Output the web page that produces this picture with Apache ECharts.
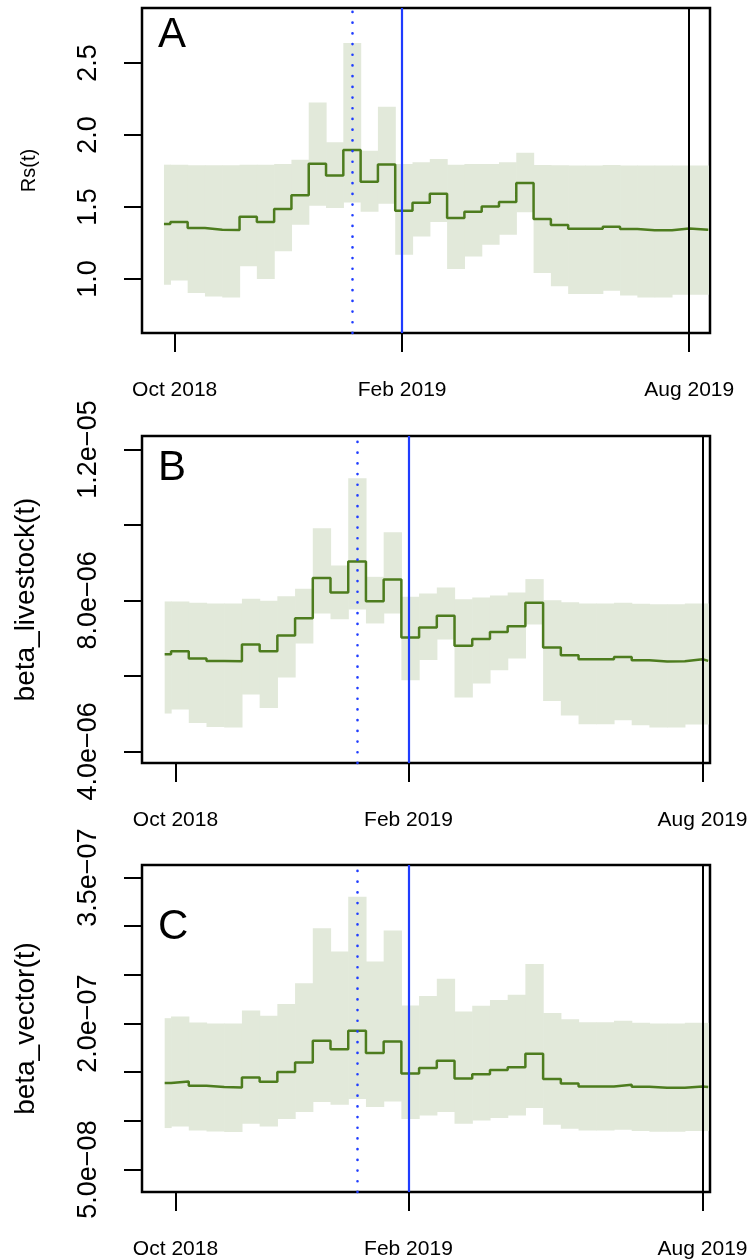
<!DOCTYPE html>
<html>
<head>
<meta charset="utf-8">
<script src="https://cdn.jsdelivr.net/npm/echarts@6/dist/echarts.min.js"></script>
<style>
  html, body { margin: 0; padding: 0; background: #fff; }
  #chart { width: 750px; height: 1260px; }
</style>
</head>
<body>
<div id="chart"></div>
<script>
// step edges on the time index (one unit = one estimation window)
const edgesA = [-0.37, 0, 1, 2, 3, 4, 5, 6, 7, 8, 9, 10, 11, 12, 13, 14, 15, 16, 17, 18, 19, 20, 21, 22, 23, 24, 25, 26, 27, 28, 29, 30, 31.1];
const edgesBC = [-0.36, 0, 1, 2, 3, 4, 5, 6, 7, 8, 9, 10, 11, 12, 13, 14, 15, 16, 17, 18, 19, 20, 21, 22, 23, 24, 25, 26, 27, 28, 29, 30, 30.32];

const xTickVals = [0.25, 13.4, 30.0];
const xTickLabels = ['Oct 2018', 'Feb 2019', 'Aug 2019'];
const dottedAt = 10.53;
const solidAt = 13.4;
const blackAt = 30.0;

// A: Rs(t)
const rsMid = [1.382, 1.396, 1.354, 1.342, 1.340, 1.433, 1.396, 1.486, 1.581, 1.801, 1.719, 1.896, 1.676, 1.796, 1.474, 1.530,
  1.592, 1.424, 1.467, 1.504, 1.535, 1.667, 1.417, 1.375, 1.349, 1.349, 1.363, 1.347, 1.338, 1.338, 1.351, 1.342];
const rsUpper = [1.794, 1.794, 1.790, 1.790, 1.790, 1.794, 1.794, 1.799, 1.828, 2.226, 1.949, 2.639, 1.891, 2.197, 1.799, 1.810,
  1.833, 1.794, 1.799, 1.799, 1.810, 1.877, 1.792, 1.790, 1.789, 1.789, 1.791, 1.789, 1.788, 1.788, 1.789, 1.789];
const rsLower = [0.960, 0.990, 0.903, 0.879, 0.872, 1.088, 1.000, 1.192, 1.377, 1.509, 1.493, 1.532, 1.467, 1.523, 1.169, 1.296,
  1.396, 1.069, 1.157, 1.238, 1.308, 1.463, 1.042, 0.949, 0.896, 0.896, 0.919, 0.886, 0.872, 0.872, 0.891, 0.891];

// B: beta_livestock(t), in units of 1e-6
const livMid = [6.576, 6.655, 6.461, 6.398, 6.390, 6.833, 6.655, 7.072, 7.531, 8.592, 8.212, 9.034, 7.981, 8.557, 7.019, 7.284,
  7.592, 6.796, 6.981, 7.167, 7.318, 7.937, 6.753, 6.549, 6.443, 6.443, 6.504, 6.416, 6.382, 6.390, 6.443, 6.398];
const livUpper = [7.973, 7.973, 7.937, 7.920, 7.920, 8.042, 7.990, 8.114, 8.308, 9.910, 8.928, 11.236, 8.626, 9.804, 8.096, 8.186,
  8.345, 8.034, 8.080, 8.133, 8.212, 8.565, 8.008, 7.955, 7.920, 7.920, 7.937, 7.911, 7.902, 7.902, 7.920, 7.920];
const livLower = [5.003, 5.109, 4.754, 4.647, 4.631, 5.507, 5.151, 5.958, 6.859, 7.655, 7.504, 7.761, 7.390, 7.655, 5.886, 6.420,
  6.965, 5.427, 5.798, 6.151, 6.461, 7.363, 5.337, 4.950, 4.719, 4.719, 4.825, 4.692, 4.631, 4.631, 4.711, 4.711];

// C: beta_vector(t), in units of 1e-8
const vecMid = [13.88, 14.05, 13.60, 13.47, 13.43, 14.46, 14.01, 15.01, 16.00, 18.22, 17.37, 19.25, 16.96, 18.15, 14.87, 15.42,
  16.17, 14.35, 14.80, 15.22, 15.52, 16.89, 14.29, 13.84, 13.53, 13.53, 13.71, 13.50, 13.40, 13.40, 13.53, 13.47];
const vecUpper = [20.55, 20.72, 20.10, 20.00, 20.00, 21.34, 20.79, 22.02, 24.15, 29.79, 27.39, 33.04, 26.37, 29.55, 21.85, 22.84,
  24.59, 21.23, 21.82, 22.43, 22.95, 26.13, 21.07, 20.45, 20.14, 20.14, 20.28, 20.07, 20.00, 20.00, 20.07, 20.07];
const vecLower = [9.26, 9.43, 9.01, 8.91, 8.85, 9.70, 9.43, 10.18, 10.90, 11.93, 11.65, 12.24, 11.42, 12.00, 10.18, 10.55,
  10.90, 9.70, 10.04, 10.29, 10.55, 11.31, 9.60, 9.19, 9.01, 9.01, 9.09, 8.95, 8.88, 8.88, 8.95, 8.95];

const rsTicks = [1.0, 1.5, 2.0, 2.5];
const livTicks = [4e-6, 6e-6, 8e-6, 1e-5, 1.2e-5];
const livLabels = [4e-6, 8e-6, 1.2e-5];
const vecTicks = [5e-8, 1e-7, 1.5e-7, 2e-7, 2.5e-7, 3e-7, 3.5e-7];
const vecLabels = [5e-8, 2e-7, 3.5e-7];

const GREEN = '#4d7c1e';
const BAND = '#e2e9da';
const FONT = 'Liberation Sans, Arial, sans-serif';

function stepData(edges, vals, scale) {
  const out = vals.map((v, i) => [edges[i], v * scale]);
  out.push([edges[edges.length - 1], vals[vals.length - 1] * scale]);
  return out;
}

// one row per window: [start, end, lower, upper]
function bandData(edges, lo, up, scale) {
  return lo.map((l, i) => [edges[i], edges[i + 1], l * scale, up[i] * scale]);
}

function sci(v) {
  const [m, e] = v.toExponential(1).split('e');
  const n = Number(e);
  return m + 'e' + (n < 0 ? '\u2212' : '+') + String(Math.abs(n)).padStart(2, '0');
}

function renderBand(params, api) {
  const a = api.coord([api.value(0), api.value(3)]);
  const b = api.coord([api.value(1), api.value(2)]);
  return {
    type: 'rect',
    shape: { x: a[0], y: a[1], width: b[0] - a[0] + 0.6, height: b[1] - a[1] },
    style: { fill: BAND }
  };
}

const panels = [
  { top: 8, height: 325, xMax: 31.2, edges: edgesA, mid: rsMid, up: rsUpper, lo: rsLower, scale: 1,
    yMin: 0.625, yMax: 2.882, ticks: rsTicks, labels: rsTicks, fmt: v => v.toFixed(1),
    name: 'Rs(t)', nameSize: 20, nameGap: 103, letter: 'A', letterY: 35 },
  { top: 436, height: 327, xMax: 30.42, edges: edgesBC, mid: livMid, up: livUpper, lo: livLower, scale: 1e-6,
    yMin: 3.692e-6, yMax: 12.358e-6, ticks: livTicks, labels: livLabels, fmt: sci,
    name: 'beta_livestock(t)', nameSize: 28, nameGap: 102, letter: 'B', letterY: 468 },
  { top: 865, height: 327, xMax: 30.42, edges: edgesBC, mid: vecMid, up: vecUpper, lo: vecLower, scale: 1e-8,
    yMin: 2.69e-8, yMax: 36.29e-8, ticks: vecTicks, labels: vecLabels, fmt: sci,
    name: 'beta_vector(t)', nameSize: 28, nameGap: 102, letter: 'C', letterY: 927 }
];

const grid = [], xAxis = [], yAxis = [], series = [], graphic = [];

panels.forEach((p, i) => {
  grid.push({
    left: 142, right: 40, top: p.top, height: p.height,
    containLabel: false, outerBoundsMode: 'none',
    show: true, borderColor: '#000', borderWidth: 2.5, backgroundColor: 'transparent'
  });
  xAxis.push({
    gridIndex: i, type: 'value', min: -1.64, max: p.xMax,
    axisLine: { show: false, onZero: false }, splitLine: { show: false },
    axisTick: { show: true, length: 19, lineStyle: { color: '#000', width: 2 }, customValues: xTickVals },
    axisLabel: {
      customValues: xTickVals, margin: 47, fontSize: 21, color: '#000', fontFamily: FONT,
      formatter: v => xTickLabels[xTickVals.findIndex(t => Math.abs(t - v) < 1e-6)] || ''
    }
  });
  yAxis.push({
    gridIndex: i, type: 'value', min: p.yMin, max: p.yMax,
    axisLine: { show: false, onZero: false }, splitLine: { show: false },
    axisTick: { show: true, length: 18, lineStyle: { color: '#000', width: 2 }, customValues: p.ticks },
    axisLabel: {
      customValues: p.labels, rotate: 90, margin: 40, fontSize: 27, color: '#000', fontFamily: FONT,
      formatter: v => p.fmt(v)
    },
    name: p.name, nameLocation: 'middle', nameRotate: 90, nameGap: p.nameGap,
    nameTextStyle: { fontSize: p.nameSize, color: '#000', fontFamily: FONT }
  });

  series.push({
    type: 'custom', xAxisIndex: i, yAxisIndex: i, silent: true, z: 1,
    renderItem: renderBand,
    encode: { x: [0, 1], y: [2, 3] },
    data: bandData(p.edges, p.lo, p.up, p.scale)
  });
  series.push({
    type: 'line', xAxisIndex: i, yAxisIndex: i, step: 'end', symbol: 'none', silent: true,
    lineStyle: { color: GREEN, width: 2.5 }, data: stepData(p.edges, p.mid, p.scale), z: 3,
    markLine: {
      silent: true, symbol: ['none', 'none'], label: { show: false }, animation: false,
      data: [
        { xAxis: dottedAt, lineStyle: { color: '#1f3cff', width: 2.6, type: [0.1, 10.6], cap: 'round' } },
        { xAxis: solidAt, lineStyle: { color: '#1f3cff', width: 2.2, type: 'solid' } },
        { xAxis: blackAt, lineStyle: { color: '#000', width: 2, type: 'solid' } }
      ]
    }
  });

  graphic.push({
    type: 'text', x: 158, y: p.letterY, z: 10,
    style: { text: p.letter, fontSize: 42, fontFamily: FONT, fill: '#000', align: 'left', verticalAlign: 'middle' }
  });
});

const chart = echarts.init(document.getElementById('chart'), null, { renderer: 'canvas' });
chart.setOption({
  animation: false,
  backgroundColor: '#fff',
  textStyle: { fontFamily: FONT },
  grid, xAxis, yAxis, series, graphic
});
</script>
</body>
</html>
